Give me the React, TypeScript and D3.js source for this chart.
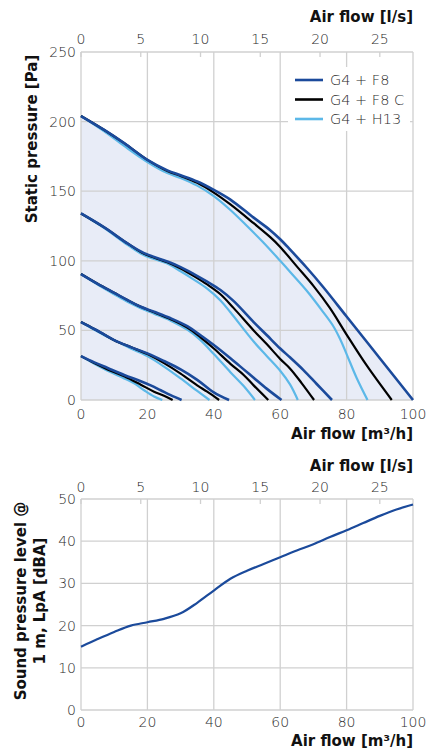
import React from "react";
import * as d3 from "d3";

// ---- Data (top chart: static pressure vs air flow, 5 speed levels, 3 filters) ----
// Flow in m³/h, pressure in Pa
const f8Level1 = [[0,31.5],[4,27],[8,23],[13,18],[18,13.5],[21,10.5],[24,7],[27,3.5],[30.3,0]];
const f8Level2 = [[0,56],[4,51],[7,47],[10,43],[15,38],[20,33.5],[25,28],[30,22],[35,14.5],[40,5.5],[44.6,0]];
const f8Level3 = [[0,90.5],[5,83.5],[10,77],[14,71.8],[18,67],[22,63.4],[27,58.7],[32,53],[36,46.5],[40,39.5],[45,30],[49,22],[52,16],[56,8],[60.4,0]];
const f8Level4 = [[0,134],[7,124],[14,112.5],[19,105.5],[26,99.5],[30,95.5],[34,90.5],[38,85],[42,79],[46,71],[52,56],[56,46.5],[60,37],[63,30.5],[67,21.5],[71,11.5],[75.6,0]];
const f8Level5 = [[0,204],[7,194],[13,184.5],[20,172.5],[26,165],[30,161.5],[35,157],[40,151],[45,144],[52,131],[57,122],[60,115.5],[63,108],[68,95],[73,81],[80,60],[90,30],[100,0]];

const f8cLevel1 = [[0,31.5],[4,26.5],[8,22],[13,17],[18,11],[22,6],[25,3],[27.6,0]];
const f8cLevel2 = [[0,56],[4,51],[7,47],[10,43],[15,38],[20,33],[25,26.5],[30,19],[35,10.5],[38,6],[41.6,0]];
const f8cLevel3 = [[0,90.5],[5,83.5],[10,77],[14,71.8],[18,67],[22,63],[27,58],[32,52],[36,45],[40,37],[45,26],[49,18],[52,10.5],[56.4,0]];
const f8cLevel4 = [[0,134],[7,124],[14,112.5],[19,105],[26,99],[30,94.5],[34,89],[38,83],[42,76],[46,66],[52,50],[56,40],[60,29.5],[63,22.5],[66.5,12],[70.2,0]];
const f8cLevel5 = [[0,204],[7,194],[13,184.5],[20,172.5],[26,164.5],[30,161],[35,156],[40,149],[45,140.5],[52,127],[57,117],[60,110],[65,96],[70,82],[75,66],[80,47],[86,25],[93.6,0]];

const h13Level1 = [[0,31.5],[4,26],[8,21],[13,15.5],[16,12],[19,7],[22,2.5],[24.5,0]];
const h13Level2 = [[0,56],[4,50.5],[7,46.5],[10,43],[15,37],[20,31.5],[25,24],[30,15.5],[35,6.5],[38.7,0]];
const h13Level3 = [[0,90.5],[5,83],[10,76],[14,70.5],[18,66],[22,62],[27,57],[32,50.5],[36,43],[40,33],[45,20],[49,10],[52.4,0]];
const h13Level4 = [[0,134],[7,123.5],[14,111.5],[19,104],[26,98],[30,92.5],[34,86.5],[38,80],[42,71.5],[45,63],[52,42],[56,31.5],[60,21],[63,11],[65.3,0]];
const h13Level5 = [[0,204],[7,193],[13,182.5],[20,171],[26,163],[30,159.5],[35,154],[40,146.5],[45,136.5],[50,125],[55,113],[60,100],[63,92],[68,78.5],[73,63],[76,53],[78,44],[80,33],[83,16],[86.3,0]];

const seriesNames = ["G4 + F8", "G4 + F8 C", "G4 + H13"];
const seriesColors = ["#1b4a9b", "#000000", "#5cb8e8"];

// ---- Data (bottom chart: sound pressure level vs air flow) ----
const soundFlow = [0,5,10,15,20,25,30,35,40,45,50,55,60,65,70,75,80,85,90,95,100];
const soundLevel = [15,16.8,18.5,20,20.8,21.6,22.9,25.4,28.3,31.1,33,34.6,36.2,37.8,39.3,41,42.6,44.3,46,47.5,48.7];

// ---- Axis ticks ----
const flowTicks = [0,20,40,60,80,100];
const lpsTicks = [0,5,10,15,20,25];
const pressureTicks = [0,50,100,150,200,250];
const soundTicks = [0,10,20,30,40,50];

const W = 441, H = 751;
const X0 = 81, X1 = 413;
const TOP = { y0: 52, y1: 400 };
const BOT = { y0: 499, y1: 710 };

const xM3h = d3.scaleLinear().domain([0, 100]).range([X0, X1]);
const xLps = d3.scaleLinear().domain([0, 100 / 3.6]).range([X0, X1]);
const yP = d3.scaleLinear().domain([0, 250]).range([TOP.y1, TOP.y0]);
const yS = d3.scaleLinear().domain([0, 50]).range([BOT.y1, BOT.y0]);

const GRID = "#d0d0d0";
const TICK_FONT = "'DejaVu Sans', sans-serif";
const TITLE_FONT = "'DejaVu Sans', sans-serif";
const TICK_COLOR = "#2b2b2b";

type Pt = number[];

const curve = d3.curveCatmullRom.alpha(0.5);
const lineP = d3.line<Pt>().x(d => xM3h(d[0])).y(d => yP(d[1])).curve(curve);
const areaP = d3.area<Pt>().x(d => xM3h(d[0])).y0(yP(0)).y1(d => yP(d[1])).curve(curve);
const lineS = d3.line<number>().x((_, i) => xM3h(soundFlow[i])).y(d => yS(d)).curve(curve);

function Frame({ y0, y1, yTicks, yScale }: { y0: number; y1: number; yTicks: number[]; yScale: (v: number) => number }) {
  return (
    <g>
      {flowTicks.map(t => (
        <line key={"vx" + t} x1={xM3h(t)} x2={xM3h(t)} y1={y0} y2={y1} stroke={GRID} strokeWidth={1.3} />
      ))}
      {yTicks.map(t => (
        <line key={"hy" + t} x1={X0} x2={X1} y1={yScale(t)} y2={yScale(t)} stroke={GRID} strokeWidth={1.3} />
      ))}
      {lpsTicks.map(t => (
        <line key={"tl" + t} x1={xLps(t)} x2={xLps(t)} y1={y0} y2={y0 + 5} stroke={GRID} strokeWidth={1.3} />
      ))}
    </g>
  );
}

function AxisLabels({ yTicks, yScale, topTickBase, topTitleBase, botTickBase, botTitleBase }: any) {
  return (
    <g fontFamily={TICK_FONT} fill={TICK_COLOR}>
      {yTicks.map((t: number) => (
        <text key={"yl" + t} x={76} y={yScale(t) + 5} textAnchor="end" fontSize={14} fontWeight={300}>{t}</text>
      ))}
      {lpsTicks.map(t => (
        <text key={"tl" + t} x={xLps(t)} y={topTickBase} textAnchor="middle" fontSize={14} fontWeight={300}>{t}</text>
      ))}
      {flowTicks.map(t => (
        <text key={"bl" + t} x={xM3h(t)} y={botTickBase} textAnchor="middle" fontSize={14} fontWeight={300}>{t}</text>
      ))}
      <text x={X1} y={topTitleBase} textAnchor="end" fontFamily={TITLE_FONT} fontWeight="bold" fontSize={15} fill="#111">Air flow [l/s]</text>
      <text x={X1} y={botTitleBase} textAnchor="end" fontFamily={TITLE_FONT} fontWeight="bold" fontSize={15} fill="#111">Air flow [m³/h]</text>
    </g>
  );
}

export default function App() {
  const f8 = [f8Level1, f8Level2, f8Level3, f8Level4, f8Level5];
  const f8c = [f8cLevel1, f8cLevel2, f8cLevel3, f8cLevel4, f8cLevel5];
  const h13 = [h13Level1, h13Level2, h13Level3, h13Level4, h13Level5];
  const groups = [h13, f8c, f8];
  const groupColors = [seriesColors[2], seriesColors[1], seriesColors[0]];
  const groupWidths = [2.2, 2.2, 2.6];

  const legendY = [80, 99.5, 119];

  return (
    <svg width={W} height={H} style={{ position: "absolute", left: 0, top: 0, background: "#fff" }}>
      {/* ---------- TOP CHART ---------- */}
      <path d={areaP(f8Level5 as Pt[]) || ""} fill="#e8ecf7" />
      <Frame y0={TOP.y0} y1={TOP.y1} yTicks={pressureTicks} yScale={yP} />
      {groups.map((g, gi) =>
        g.map((lvl, li) => (
          <path key={gi + "-" + li} d={lineP(lvl as Pt[]) || ""} fill="none" stroke={groupColors[gi]} strokeWidth={groupWidths[gi]} strokeLinejoin="round" />
        ))
      )}
      {/* legend */}
      <rect x={288} y={67} width={122} height={64} fill="#fff" />
      {seriesNames.map((n, i) => (
        <g key={n}>
          <line x1={295} x2={323} y1={legendY[i]} y2={legendY[i]} stroke={seriesColors[i]} strokeWidth={2.6} />
          <text x={330} y={legendY[i] + 5} fontFamily={TICK_FONT} fontSize={14.5} fontWeight={300} fill={TICK_COLOR}>{n}</text>
        </g>
      ))}
      <AxisLabels yTicks={pressureTicks} yScale={yP}
        topTickBase={44} topTitleBase={22} botTickBase={419} botTitleBase={439} />
      <text transform="translate(37,139) rotate(-90)" textAnchor="middle" fontFamily={TITLE_FONT} fontWeight="bold" fontSize={15} fill="#111">Static pressure [Pa]</text>

      {/* ---------- BOTTOM CHART ---------- */}
      <Frame y0={BOT.y0} y1={BOT.y1} yTicks={soundTicks} yScale={yS} />
      <path d={lineS(soundLevel) || ""} fill="none" stroke={seriesColors[0]} strokeWidth={2.2} />
      <AxisLabels yTicks={soundTicks} yScale={yS}
        topTickBase={492} topTitleBase={471} botTickBase={727} botTitleBase={746} />
      <text transform="translate(26,601) rotate(-90)" textAnchor="middle" fontFamily={TITLE_FONT} fontWeight="bold" fontSize={15} fill="#111">Sound pressure level @</text>
      <text transform="translate(45,601) rotate(-90)" textAnchor="middle" fontFamily={TITLE_FONT} fontWeight="bold" fontSize={15} fill="#111">1 m, LpA [dBA]</text>
    </svg>
  );
}
